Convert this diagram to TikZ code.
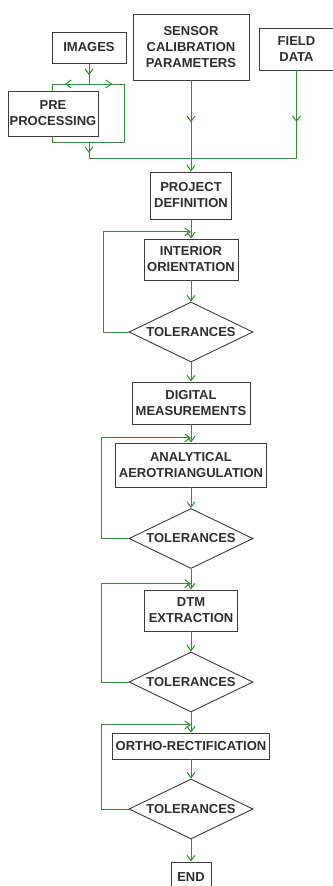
\documentclass[tikz,border=0pt]{standalone}
\usepackage{fontspec}
\setmainfont{Liberation Sans}
\usepackage{tikz}
\usetikzlibrary{positioning, arrows.meta, calc, backgrounds}
\usetikzlibrary{shapes.geometric}
\usetikzlibrary{decorations.markings}
\definecolor{cG}{RGB}{52,140,52}
\definecolor{cB}{RGB}{60,60,60}
\definecolor{cT}{RGB}{45,45,50}

\tikzset{
  box/.style={draw=cB, fill=white, line width=0.9pt, inner sep=0pt, align=center,
    text=cT, font=\fontsize{13}{16}\selectfont\bfseries},
  tol/.style={box, diamond, aspect=2, minimum width=124pt, minimum height=60pt},
  line/.style={draw=cG, line width=1pt},
  flow/.style={line, -{Straight Barb[length=5.5pt,width=8pt]}},
  midtip/.style={decoration={markings,
    mark=at position #1 with {\arrow{Straight Barb[length=5.5pt,width=8pt]}}},
    postaction=decorate},
}

\begin{document}
\begin{tikzpicture}[x=1pt, y=-1pt, on grid, auto]
    \useasboundingbox (0,0) rectangle (332,886);

    % inputs
    \node[box, minimum width=74pt, minimum height=31pt] (img) at (89,47.5) {IMAGES};
    \node[box, minimum width=116pt, minimum height=66pt] (sen) at (191,47) {SENSOR\\CALIBRATION\\PARAMETERS};
    \node[box, minimum width=75pt, minimum height=42pt] (fld) at (296.5,49) {FIELD\\DATA};

    % main chain
    \node[box, minimum width=81pt, minimum height=47pt] (proj) at (191,195.5) {PROJECT\\DEFINITION};
    \node[box, minimum width=94pt, minimum height=41pt] (int) [below=64pt of proj] {INTERIOR\\ORIENTATION};
    \node[tol] (tol1) [below=72.5pt of int] {TOLERANCES};
    \node[box, minimum width=118pt, minimum height=42pt] (dig) [below=71pt of tol1] {DIGITAL\\MEASUREMENTS};
    \node[box, minimum width=151pt, minimum height=44pt] (ana) [below=62pt of dig] {ANALYTICAL\\AEROTRIANGULATION};
    \node[tol] (tol2) [below=73.5pt of ana] {TOLERANCES};
    \node[box, minimum width=93pt, minimum height=41pt] (dtm) [below=72pt of tol2] {DTM\\EXTRACTION};
    \node[tol] (tol3) [below=71.5pt of dtm] {TOLERANCES};
    \node[box, minimum width=157pt, minimum height=26pt] (orto) [below=64pt of tol3] {ORTHO-RECTIFICATION};
    \node[tol] (tol4) [below=63pt of orto] {TOLERANCES};
    \node[box, minimum width=40pt, minimum height=30pt] (end) [below=68pt of tol4] {END};

    % junctions of the pre processing loop
    \coordinate (jtop) at (89,84);
    \coordinate (ltop) at (52,84);
    \coordinate (rtop) at (124,84);
    \coordinate (lbot) at (52,142);
    \coordinate (rbot) at (124,142);
    \coordinate (jbot) at (89,142);
    \coordinate (jmrg) at (89,158);
    \coordinate (fcor) at (fld.south |- jmrg);

    \begin{scope}[on background layer]
      \draw[line, midtip=0.57] (img.south) -- (jtop);
      \draw[line, midtip=0.65] (jtop) -- (ltop);
      \draw[line, midtip=0.66] (jtop) -- (rtop);
      \draw[line] (ltop) -- (lbot) -- (rbot) -- (rtop);
      \draw[line, midtip=0.69] (jbot) -- (jmrg);
    \end{scope}
    \node[box, minimum width=90pt, minimum height=45pt] (pre) at (53,113.5) {PRE\\PROCESSING};

    \draw[line] (jmrg) -- (fcor);
    \draw[line, midtip=0.59] (fld.south) -- (fcor);
    \draw[flow, midtip=0.46] (sen.south) -- (proj.north);

    % loop entry points
    \coordinate (l1) at ($(proj.south)!0.65!(int.north)$);
    \coordinate (l2) at ($(dig.south)!0.74!(ana.north)$);
    \coordinate (l3) at ($(tol2.south)!0.71!(dtm.north)$);
    \coordinate (l4) at ($(tol3.south)!0.62!(orto.north)$);

    \draw[flow] (proj) -- (int);
    \draw[flow] (int) -- (tol1);
    \draw[flow] (tol1) -- (dig);
    \draw[flow] (dig) -- (ana);
    \draw[flow] (ana) -- (tol2);
    \draw[flow] (tol2) -- (dtm);
    \draw[flow] (dtm) -- (tol3);
    \draw[flow] (tol3) -- (orto);
    \draw[flow] (orto) -- (tol4);
    \draw[flow] (tol4) -- (end);

    \draw[flow] (tol1.west) -- ++(-25,0) |- (l1);
    \draw[flow] (tol2.west) -- ++(-27,0) |- (l2);
    \draw[flow] (tol3.west) -- ++(-27,0) |- (l3);
    \draw[flow] (tol4.west) -- ++(-27,0) |- (l4);
\end{tikzpicture}
\end{document}
